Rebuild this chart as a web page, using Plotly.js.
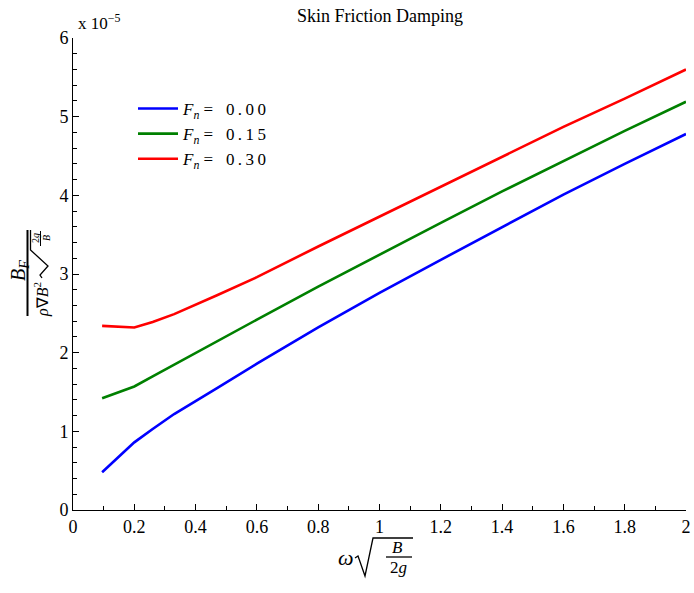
<!DOCTYPE html>
<html><head><meta charset="utf-8">
<script src="https://cdn.plot.ly/plotly-3.0.1.min.js"></script>
<style>html,body{margin:0;padding:0;background:#fff}</style>
</head><body>
<div id="chart" style="width:694px;height:593px"></div>
<script>
// Non-dimensional frequency omega*sqrt(B/2g)
const omega = [0.095, 0.2, 0.26, 0.33, 0.47, 0.6, 0.8, 1.0, 1.2, 1.4, 1.6, 1.8, 2.0];
// Damping values, units of 1e-5
const fn000 = [0.48, 0.86, 1.03, 1.22, 1.55, 1.86, 2.32, 2.76, 3.18, 3.60, 4.01, 4.40, 4.78];
const fn015 = [1.42, 1.57, 1.70, 1.85, 2.14, 2.42, 2.84, 3.25, 3.65, 4.05, 4.44, 4.82, 5.19];
const fn030 = [2.34, 2.32, 2.39, 2.49, 2.73, 2.96, 3.35, 3.73, 4.11, 4.49, 4.87, 5.23, 5.60];
const seriesNames = [
  '<i>F</i><sub><i>n</i></sub> =\u2002 0\u2009.\u20090\u20090',
  '<i>F</i><sub><i>n</i></sub> =\u2002 0\u2009.\u20091\u20095',
  '<i>F</i><sub><i>n</i></sub> =\u2002 0\u2009.\u20093\u20090'
];
const seriesColors = ['#0000ff', '#008000', '#ff0000'];
const seriesValues = [fn000, fn015, fn030];

const W = 694, H = 593, L = 73, R = 8, T = 38, B = 83;
const pw = W - L - R, ph = H - T - B;
const px = v => (v - L) / pw;
const py = v => (H - B - v) / ph;

const traces = seriesValues.map((ys, i) => ({
  x: omega, y: ys, type: 'scatter', mode: 'lines', name: seriesNames[i],
  line: {color: seriesColors[i], width: 2.6}
}));

const serif = 'Liberation Serif, Times New Roman, serif';
const ann = (x, y, text, size, angle) => ({
  xref: 'paper', yref: 'paper', x: px(x), y: py(y), text: text, showarrow: false,
  xanchor: 'center', yanchor: 'middle', textangle: angle || 0,
  font: {family: serif, size: size, color: '#000'}
});

const line = (x0, y0, x1, y1, w) => ({type: 'line', xref: 'paper', yref: 'paper',
  x0: px(x0), y0: py(y0), x1: px(x1), y1: py(y1), line: {color: '#000', width: w || 1.5}});
const path = (pts, w) => ({type: 'path', xref: 'paper', yref: 'paper',
  path: 'M' + pts.map(p => px(p[0]) + ',' + py(p[1])).join(' L'), line: {color: '#000', width: w || 1.2}});

const layout = {
  width: W, height: H,
  margin: {l: L, r: R, t: T, b: B},
  paper_bgcolor: '#fff', plot_bgcolor: '#fff',
  font: {family: serif, size: 18, color: '#000'},
  title: {text: 'Skin Friction Damping', font: {family: serif, size: 18, color: '#000'},
          xref: 'container', yref: 'container',
          x: 380 / W, xanchor: 'center', y: 1 - 16 / H, yanchor: 'middle'},
  showlegend: true,
  legend: {x: px(133), y: py(91), xanchor: 'left', yanchor: 'top', bgcolor: 'rgba(0,0,0,0)',
           font: {family: serif, size: 17, color: '#000'}, tracegroupgap: 0, itemwidth: 40},
  xaxis: {range: [0, 2], dtick: 0.2, tick0: 0, showgrid: false, zeroline: false,
          showline: true, linecolor: '#000', linewidth: 1, ticks: 'inside', ticklen: 6,
          tickcolor: '#000', mirror: false, tickfont: {family: serif, size: 18},
          minor: {dtick: 0.1, ticks: 'inside', ticklen: 4, tickcolor: '#000', showgrid: false}},
  yaxis: {range: [0, 6], dtick: 1, tick0: 0, showgrid: false, zeroline: false,
          showline: true, linecolor: '#000', linewidth: 1, ticks: 'inside', ticklen: 6,
          tickcolor: '#000', mirror: false, tickfont: {family: serif, size: 18},
          minor: {dtick: 0.2, ticks: 'inside', ticklen: 4, tickcolor: '#000', showgrid: false}},
  annotations: [
    ann(99, 22, 'x 10<sup>\u22125</sup>', 17, 0),
    // y-axis label: B_F / (rho nabla B^2 sqrt(2g/B))
    ann(19, 271, '<i>B</i><sub><i>F</i></sub>', 20, -90),
    ann(41, 300, '<i>\u03c1</i>\u2207<i>B</i><sup>2</sup>', 16, -90),
    ann(35, 238, '2<i>g</i>', 10, -90),
    ann(46, 238, '<i>B</i>', 10, -90),
    // x-axis label: omega sqrt(B/2g)
    ann(346, 557, '<i>\u03c9</i>', 22, 0),
    ann(397, 547, '<i>B</i>', 17, 0),
    ann(399, 567, '2<i>g</i>', 17, 0)
  ],
  shapes: [
    line(27.5, 230, 27.5, 316, 2),
    line(40.5, 231, 40.5, 246, 1),
    path([[42, 278], [40, 275], [48, 266], [30.5, 250], [30.5, 230]], 1.3),
    path([[355, 558], [358, 556], [365, 576], [373, 538], [413, 538]], 1.3),
    line(386, 557, 412, 557, 1.3)
  ]
};

Plotly.newPlot('chart', traces, layout, {displayModeBar: false, staticPlot: true});
</script>
</body></html>
